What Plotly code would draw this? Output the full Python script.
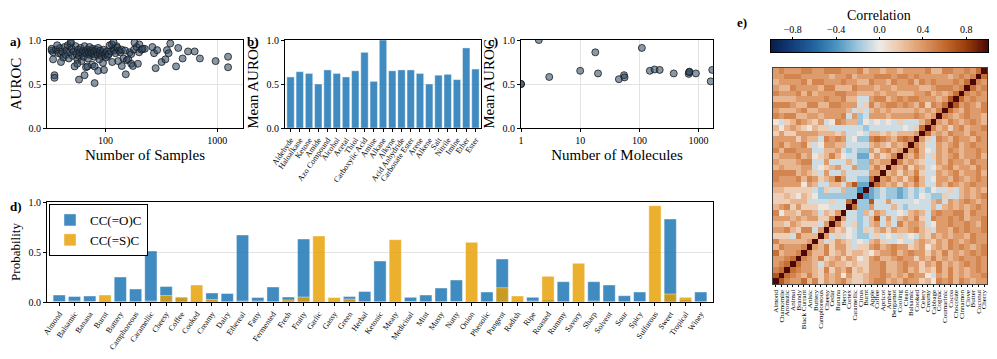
import numpy as np
import plotly.graph_objects as go

# ---- a) AUROC vs number of samples
samples = [33, 34, 36, 38, 39, 40, 41, 42, 43, 44, 45, 46, 47, 48, 50, 51, 52, 53, 54, 55,
           56, 57, 58, 59, 60, 61, 62, 63, 64, 65, 66, 67, 68, 69, 70, 71, 72, 73, 74, 75,
           76, 77, 78, 79, 80, 82, 84, 85, 86, 88, 89, 90, 92, 94, 95, 96, 98, 100, 101, 103,
           105, 107, 109, 112, 115, 118, 120, 123, 126, 128, 130, 133, 136, 140, 145, 150, 155, 165, 170, 180,
           190, 200, 210, 225, 33, 34, 35, 35, 37, 40, 49, 49, 56, 58, 65, 69, 80, 80, 86, 97,
           114, 118, 140, 152, 160, 170, 176, 182, 195, 201, 215, 263, 272, 281, 290, 318, 344, 355, 367, 380,
           428, 448, 490, 548, 628, 700, 967, 1250, 1250]
auroc = [0.88, 0.86, 0.89, 0.85, 0.91, 0.84, 0.87, 0.80, 0.92, 0.83, 0.88, 0.94, 0.79, 0.86, 0.90, 0.82, 0.87, 0.70, 0.93, 0.84,
         0.78, 0.89, 0.82, 0.86, 0.91, 0.76, 0.85, 0.88, 0.81, 0.93, 0.86, 0.69, 0.84, 0.89, 0.79, 0.86, 0.92, 0.83, 0.88, 0.85,
         0.72, 0.90, 0.84, 0.87, 0.81, 0.89, 0.86, 0.83, 0.91, 0.78, 0.85, 0.88, 0.82, 0.86, 0.74, 0.89, 0.83, 0.85, 0.80, 0.87,
         0.82, 0.84, 0.94, 0.87, 0.75, 0.90, 0.88, 0.85, 0.93, 0.91, 0.76, 0.88, 0.86, 0.89, 0.79, 0.88, 0.77, 0.86, 0.84, 0.89,
         0.92, 0.86, 0.89, 0.90, 0.90, 0.78, 0.60, 0.57, 0.94, 0.75, 0.96, 0.98, 0.73, 0.55, 0.60, 0.70, 0.70, 0.51, 0.65, 0.66,
         0.95, 0.975, 0.705, 0.61, 0.78, 0.73, 0.705, 0.97, 0.73, 0.95, 0.90, 0.92, 0.85, 0.68, 0.885, 0.75, 0.78, 0.885, 0.85, 0.96,
         0.70, 0.91, 0.79, 0.87, 0.87, 0.79, 0.76, 0.81, 0.69]

# ---- b) mean AUROC by functional group
groups = ["Aldehyde", "Haloalkane", "Ketone", "Amide", "Azo Compound", "Alcohol", "Acetal",
          "Thiol", "Carboxylic Acid", "Amine", "Alkane", "Alkyne", "Acid Anhydride",
          "Carbonate Ester", "Arene", "Alkene", "Salt", "Nitrile", "Imine", "Ether", "Ester"]
group_auroc = [0.58, 0.64, 0.62, 0.50, 0.66, 0.62, 0.58, 0.65, 0.86, 0.53, 1.00, 0.65, 0.66,
               0.66, 0.62, 0.50, 0.60, 0.61, 0.55, 0.91, 0.67]

# ---- c) mean AUROC vs number of molecules
molecules = [1, 1, 2, 3, 10, 18, 20, 45, 55, 56, 110, 150, 180, 220, 380, 680, 700, 900, 1600, 1700, 690]
mol_auroc = [0.50, 0.50, 1.00, 0.58, 0.65, 0.86, 0.62, 0.555, 0.60, 0.575, 0.91, 0.65, 0.665, 0.66,
             0.62, 0.615, 0.64, 0.62, 0.53, 0.66, 0.635]

# ---- d) odour probabilities
odours = ["Almond", "Balsamic", "Banana", "Burnt", "Buttery", "Camphoreous", "Caramellic", "Cheesy",
          "Coffee", "Cooked", "Creamy", "Dairy", "Ethereal", "Fatty", "Fermented", "Fresh", "Fruity",
          "Garlic", "Gassy", "Green", "Herbal", "Ketonic", "Meaty", "Medicinal", "Mint", "Musty",
          "Nutty", "Onion", "Phenolic", "Pungent", "Radish", "Ripe", "Roasted", "Rummy", "Savory",
          "Sharp", "Solvent", "Sour", "Spicy", "Sulfurous", "Sweet", "Tropical", "Winey"]
prob_ketone = [0.07, 0.055, 0.06, 0.01, 0.25, 0.13, 0.51, 0.155, 0.04, 0.01, 0.09, 0.085, 0.67,
               0.045, 0.15, 0.05, 0.63, 0.01, 0.01, 0.055, 0.105, 0.41, 0.005, 0.047, 0.07, 0.14,
               0.22, 0.005, 0.10, 0.43, 0.01, 0.047, 0.02, 0.203, 0.005, 0.203, 0.17, 0.063,
               0.10, 0.005, 0.83, 0.02, 0.10]
prob_thione = [0.005, 0.01, 0.005, 0.07, 0.0, 0.0, 0.01, 0.065, 0.05, 0.17, 0.025, 0.0, 0.01,
               0.01, 0.0, 0.02, 0.05, 0.66, 0.045, 0.03, 0.0, 0.0, 0.623, 0.005, 0.0, 0.0,
               0.005, 0.597, 0.0, 0.143, 0.06, 0.01, 0.257, 0.0, 0.387, 0.01, 0.0, 0.0,
               0.005, 0.963, 0.08, 0.047, 0.0]

# ---- e) odour correlation matrix (upper triangle, row i holds columns i+1..37)
corr_labels = ["Almond", "Chamomile", "Aromatic", "Animal", "Brandy", "Black Currant", "Anisic",
               "Buttery", "Camphoreous", "Cheesy", "Cedar", "Banana", "Berry", "Cortex",
               "Caramellic", "Citrus", "Burnt", "Apple", "Coffee", "Apricot", "Amber", "Bergamot",
               "Cooling", "Clean", "Balsamic", "Cooked", "Celery", "Creamy", "Cabbage", "Cognac",
               "Coumarinic", "Cocoa", "Chocolate", "Cinnamon", "Clove", "Butter", "Coconut", "Cherry"]
corr_rows = [
    "6433524132" "3421123442" "3243312043" "4243233",
    "5432421323" "0311233432" "324330D324" "232334",
    "5433214132" "4121334223" "4231214242" "32343",
    "5332D23221" "2113342234" "3313242323" "4343",
    "4324123132" "0134223433" "1324232343" "343",
    "4224123122" "1023342343" "3132423234" "34",
    "3241331D11" "3423433123" "0232434323" "4",
    "2D1321D0D2" "31DD0DD232" "1324323433",
    "3D1D0DCCD1" "D0D1D0D213" "232332433",
    "3120DC1D23" "13223421D3" "32434334",
    "41D1CD23D2" "D42332D033" "4334324",
    "3DDCD26D3D" "23241D4334" "342334",
    "DDC2D32DD0" "D232D34334" "42433",
    "5CC3DDD2DC" "DDDD2D2323" "2343",
    "CC6DD3DDDD" "0DD23D3234" "323",
    "ABCDCCBCDC" "0DCC1DD232" "34",
    "BCDCCBCDCD" "C0DD1D2323" "2",
    "532313242DD324323433",
    "34231352D0332432343",
    "2313241DD323423342",
    "324132D0234233243",
    "42321DD324332433",
    "3242D1323423342",
    "3520D324323343",
    "42DD323423433",
    "31D432433243",
    "52324332433",
    "4231342334",
    "324323432",
    "43234332",
    "5324334",
    "634324",
    "53433",
    "4343",
    "534",
    "43",
    "5",
]
code = {"A": -0.45, "B": -0.32, "C": -0.2, "D": -0.08, "0": 0.03, "1": 0.14, "2": 0.26,
        "3": 0.38, "4": 0.48, "5": 0.58, "6": 0.68, "7": 0.75}

n = len(corr_labels)
corr = np.eye(n)
for i, row in enumerate(corr_rows):
    row = (row + "3" * n)[:n - 1 - i]
    for k, ch in enumerate(row):
        j = i + 1 + k
        corr[i, j] = corr[j, i] = code[ch]

# page is 997x359, the html body adds an 8px margin
PAD = 8
W, H = 997 - PAD, 359 - PAD
FONT = "Liberation Serif"
BLUE = "rgba(31,119,180,0.85)"
ORANGE = "rgba(230,159,0,0.82)"
PT_FILL = "rgba(40,70,100,0.55)"

corr_scale = [
    [0.0, "#081d4a"], [0.1, "#123f7a"], [0.2, "#2265a0"], [0.3, "#4a93c0"], [0.4, "#9cc7dc"],
    [0.5, "#efebe7"], [0.6, "#ecc3a4"], [0.7, "#dd9766"], [0.8, "#c36a2e"], [0.9, "#9a3c0c"],
    [1.0, "#4b0806"],
]


def fx(p):
    return (p - PAD) / W


def fy(p):
    return 1 - (p - PAD) / H


def px_x(a, b):
    return [fx(a), fx(b)]


def px_y(top, bottom):
    return [fy(bottom), fy(top)]


def frame(**kw):
    d = dict(showline=True, linecolor="black", linewidth=1.2, mirror=True, ticks="outside",
             ticklen=3, tickwidth=1, tickcolor="black", zeroline=False, automargin=False,
             tickfont=dict(family=FONT, size=10, color="black"), showgrid=False,
             gridcolor="#e3e3e3", gridwidth=1)
    d.update(kw)
    return d


fig = go.Figure()

marker = dict(size=7, color=PT_FILL, line=dict(color="#1a1a1a", width=0.8))
fig.add_trace(go.Scatter(x=samples, y=auroc, mode="markers", marker=marker,
                         xaxis="x", yaxis="y", showlegend=False))
fig.add_trace(go.Bar(x=list(range(len(groups))), y=group_auroc,
                     marker=dict(color=BLUE, line=dict(color="rgba(255,255,255,0.7)", width=0.6)),
                     width=0.8, xaxis="x2", yaxis="y2", showlegend=False))
fig.add_trace(go.Scatter(x=molecules, y=mol_auroc, mode="markers", marker=marker,
                         xaxis="x3", yaxis="y3", showlegend=False))
fig.add_trace(go.Bar(x=list(range(len(odours))), y=prob_ketone, name="CC(=O)C", width=0.8,
                     marker=dict(color=BLUE, line=dict(color="rgba(255,255,255,0.7)", width=0.6)),
                     xaxis="x4", yaxis="y4"))
fig.add_trace(go.Bar(x=list(range(len(odours))), y=prob_thione, name="CC(=S)C", width=0.8,
                     marker=dict(color=ORANGE, line=dict(color="rgba(255,255,255,0.7)", width=0.6)),
                     xaxis="x4", yaxis="y4"))
fig.add_trace(go.Heatmap(z=corr, x=list(range(n)), y=list(range(n)), zmin=-1, zmax=1,
                         colorscale=corr_scale, showscale=False, xaxis="x5", yaxis="y5"))
cb_vals = np.linspace(-1, 1, 256)
fig.add_trace(go.Heatmap(z=[cb_vals], x=cb_vals, y=[0], zmin=-1, zmax=1, colorscale=corr_scale,
                         showscale=False, xaxis="x6", yaxis="y6", hoverinfo="skip"))

unit_ticks = dict(tickvals=[0, 0.5, 1.0], ticktext=["0.0", "0.5", "1.0"])
title_font = dict(family=FONT, size=15, color="black")

fig.update_layout(
    width=W, height=H, margin=dict(l=0, r=0, t=0, b=0),
    paper_bgcolor="white", plot_bgcolor="white",
    font=dict(family=FONT, color="black"),
    barmode="overlay",
    xaxis=frame(type="log", domain=px_x(47, 243), range=[np.log10(30), np.log10(1700)],
                tickvals=[100, 1000], ticktext=["100", "1000"], showgrid=True,
                title=dict(text="Number of Samples", font=title_font, standoff=4), anchor="y"),
    yaxis=frame(domain=px_y(40, 128), range=[0, 1], showgrid=True, anchor="x",
                title=dict(text="AUROC", font=title_font, standoff=4), **unit_ticks),
    xaxis2=frame(domain=px_x(285, 481), anchor="y2", tickangle=-55, range=[-0.6, len(groups) - 0.4],
                 tickvals=list(range(len(groups))), ticktext=groups,
                 tickfont=dict(family=FONT, size=8, color="black")),
    yaxis2=frame(domain=px_y(40, 128), range=[0, 1], showgrid=True, anchor="x2",
                 title=dict(text="Mean AUROC", font=title_font, standoff=4), **unit_ticks),
    xaxis3=frame(type="log", domain=px_x(521, 713), range=[0, np.log10(1750)], anchor="y3",
                 tickvals=[1, 10, 100, 1000], ticktext=["1", "10", "100", "1000"], showgrid=True,
                 title=dict(text="Number of Molecules", font=title_font, standoff=4)),
    yaxis3=frame(domain=px_y(40, 128), range=[0, 1], showgrid=True, anchor="x3",
                 title=dict(text="Mean AUROC", font=title_font, standoff=4), **unit_ticks),
    xaxis4=frame(domain=px_x(47, 713), anchor="y4", tickangle=-55, range=[-0.8, len(odours) - 0.2],
                 tickvals=list(range(len(odours))), ticktext=odours,
                 tickfont=dict(family=FONT, size=8, color="black")),
    yaxis4=frame(domain=px_y(202, 302), range=[0, 1], showgrid=True, anchor="x4",
                 title=dict(text="Probability", font=dict(family=FONT, size=13, color="black"), standoff=6),
                 **unit_ticks),
    xaxis5=frame(domain=px_x(773, 987), anchor="y5", tickangle=-90, ticklen=2, linecolor="#444444",
                 range=[-0.5, n - 0.5], tickvals=list(range(n)), ticktext=corr_labels,
                 tickfont=dict(family=FONT, size=7, color="black")),
    yaxis5=frame(domain=px_y(68, 284), anchor="x5", range=[-0.5, n - 0.5], showticklabels=False,
                 ticks="", linecolor="#444444"),
    xaxis6=frame(domain=px_x(771, 988), anchor="y6", range=[-1, 1], side="top", ticklen=2,
                 tickvals=[-0.8, -0.4, 0, 0.4, 0.8], ticktext=["\u22120.8", "\u22120.4", "0.0", "0.4", "0.8"]),
    yaxis6=frame(domain=px_y(40, 52), anchor="x6", range=[-0.5, 0.5], showticklabels=False, ticks=""),
    legend=dict(x=fx(49), y=fy(204), xanchor="left", yanchor="top", bgcolor="white",
                bordercolor="black", borderwidth=1, font=dict(family=FONT, size=13, color="black"),
                tracegroupgap=0, itemwidth=30),
)

labels = [("a)", 8, 42), ("b)", 245, 42), ("c)", 486, 42), ("d)", 8, 206), ("e)", 735, 22)]
for txt, x, y in labels:
    fig.add_annotation(text="<b>%s</b>" % txt, x=fx(x), y=fy(y), xref="paper", yref="paper",
                       xanchor="left", yanchor="middle", showarrow=False,
                       font=dict(family=FONT, size=13, color="black"))
fig.add_annotation(text="Correlation", x=fx(879), y=fy(16), xref="paper", yref="paper",
                   xanchor="center", yanchor="middle", showarrow=False,
                   font=dict(family=FONT, size=14, color="black"))

fig.write_html("out.html")
